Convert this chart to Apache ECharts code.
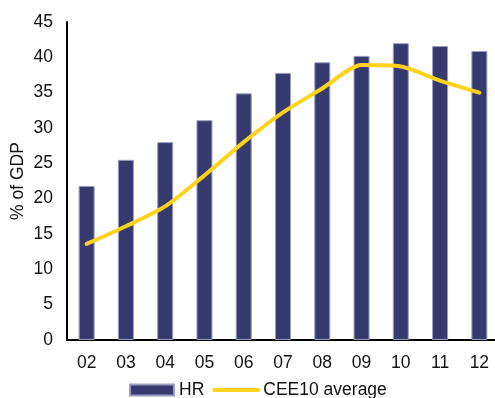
<!DOCTYPE html>
<html>
<head>
<meta charset="utf-8">
<script src="https://cdn.jsdelivr.net/npm/echarts@6/dist/echarts.min.js"></script>
<style>html,body{margin:0;padding:0;background:#fff}#c{width:495px;height:398px}</style>
</head>
<body>
<div id="c"></div>
<script>
var categories = ['02','03','04','05','06','07','08','09','10','11','12'];
var hrValues = [21.8, 25.5, 28.0, 31.1, 34.9, 37.8, 39.3, 40.2, 42.0, 41.6, 40.9];
var ceeValues = [13.6, 16.1, 18.9, 23.3, 28.0, 32.2, 35.6, 38.9, 38.7, 36.7, 35.0];
var yTicks = {min: 0, max: 45, interval: 5};

var chart = echarts.init(document.getElementById('c'));
var font = 'Liberation Sans, Arial, sans-serif';
var fs = 17.5;
chart.setOption({
  animation: false,
  grid: {left: 67, right: -4, top: 22, bottom: 58, containLabel: false, outerBoundsMode: 'none'},
  legend: {
    top: 376, left: 124,
    itemWidth: 44, itemHeight: 11, itemGap: 8,
    textStyle: {fontFamily: font, fontSize: fs, color: '#111'},
    data: [
      {name: 'HR', icon: 'rect'},
      {name: 'CEE10 average', itemStyle: {opacity: 0}, lineStyle: {width: 4, cap: 'round'}}
    ]
  },
  xAxis: {
    type: 'category', data: categories,
    axisLine: {lineStyle: {color: '#000', width: 2}},
    axisTick: {show: false},
    axisLabel: {fontFamily: font, fontSize: fs, color: '#111', margin: 14}
  },
  yAxis: {
    type: 'value', min: yTicks.min, max: yTicks.max, interval: yTicks.interval,
    name: '% of GDP', nameLocation: 'middle', nameGap: 40, nameRotate: 90,
    nameMoveOverlap: false,
    nameTextStyle: {fontFamily: font, fontSize: fs, color: '#111'},
    axisLine: {show: true, lineStyle: {color: '#000', width: 2}},
    axisTick: {show: false},
    splitLine: {show: false},
    axisLabel: {fontFamily: font, fontSize: fs, color: '#111', margin: 14}
  },
  series: [
    {name: 'HR', type: 'bar', data: hrValues, barWidth: 16,
     itemStyle: {color: '#363a6e', borderColor: '#9a9dc0', borderWidth: 1}},
    {name: 'CEE10 average', type: 'line', data: ceeValues, smooth: 0.25,
     showSymbol: false, symbol: 'none',
     lineStyle: {color: '#ffd31c', width: 4, cap: 'round'}, itemStyle: {color: '#ffd31c'}}
  ]
});
</script>
</body>
</html>
